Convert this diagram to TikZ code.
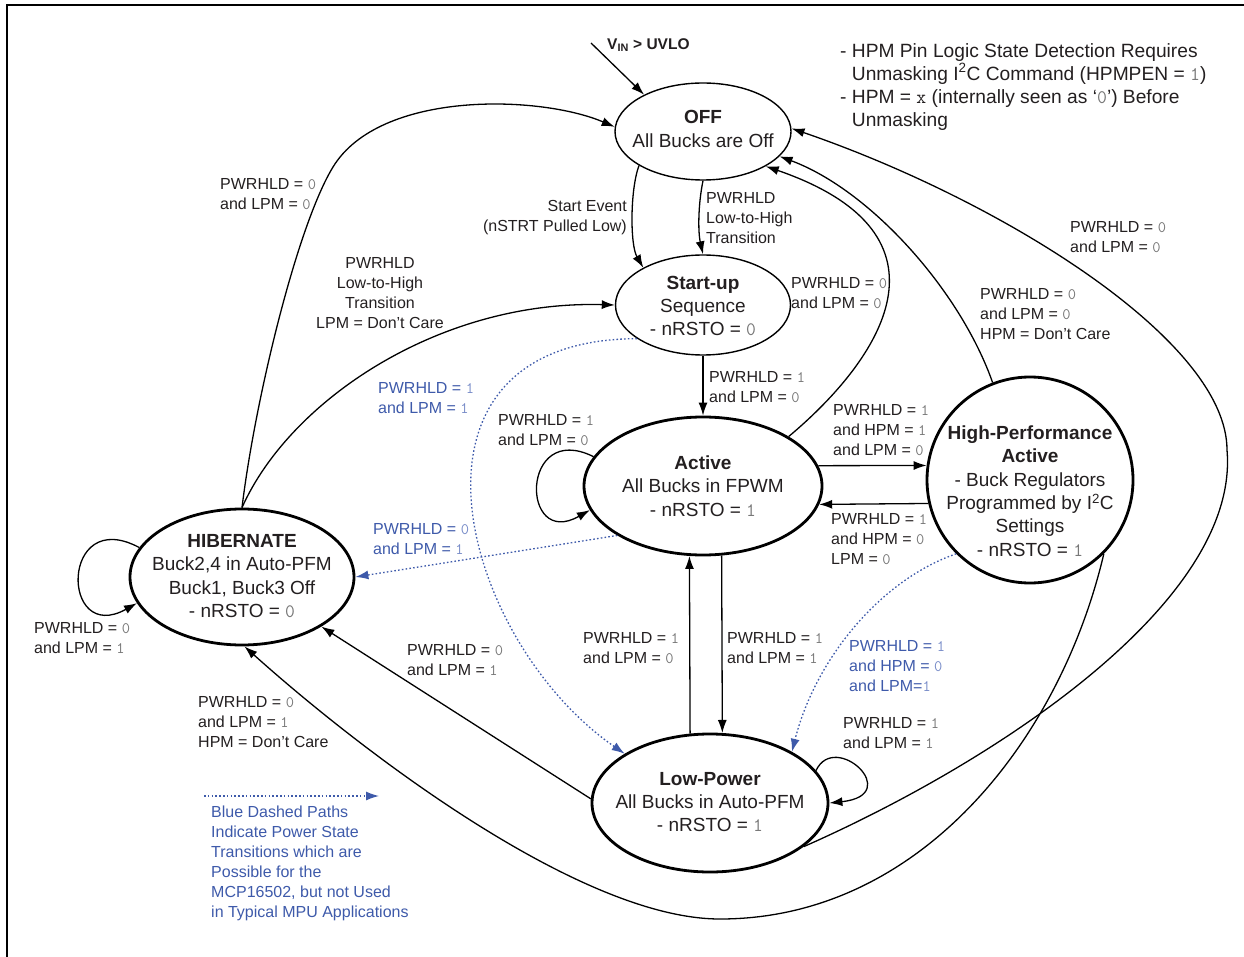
\documentclass[tikz,border=0pt]{standalone}
\usepackage{fontspec}
\setmainfont{Liberation Sans}
\usetikzlibrary{shapes.geometric,arrows.meta}
\definecolor{txt}{RGB}{35,31,32}
\definecolor{num}{RGB}{120,120,120}
\definecolor{blu}{RGB}{62,90,170}
\definecolor{blun}{RGB}{120,140,200}
\newcommand{\dg}[1]{{\ttfamily\color{num}#1}}
\newcommand{\bdg}[1]{{\ttfamily\color{blun}#1}}
\tikzset{
  lbl/.style={font=\fontsize{16}{20}\selectfont, text=txt, inner sep=0pt, align=left, anchor=west},
  blbl/.style={lbl, text=blu},
  nt/.style={font=\fontsize{19}{23.3}\selectfont, text=txt, inner sep=0pt, align=center},
  stthin/.style={draw, ellipse, line width=1.4pt, inner sep=0pt},
  stthick/.style={draw, ellipse, line width=2.8pt, inner sep=0pt},
  tr/.style={line width=1.3pt, -{Latex[length=13pt,width=9pt]}},
  btr/.style={blu, line width=1.3pt, dash pattern=on 1.6pt off 2.2pt, -{Latex[length=13pt,width=9pt]}},
}
\begin{document}
\begin{tikzpicture}[x=1pt,y=-1pt]
\useasboundingbox (0,0) rectangle (1244,957);
% frame
\draw[line width=2pt] (7,957) -- (7,5) -- (1244,5);

% states
\node[stthin, minimum width=176pt, minimum height=97pt] (off) at (703,131.5) {};
\node[stthin, minimum width=175pt, minimum height=100pt] (startup) at (703,305) {};
\node[stthick, minimum width=238pt, minimum height=138pt] (active) at (703,486) {};
\node[stthick, minimum width=224pt, minimum height=136pt] (hib) at (242,577) {};
\node[draw, circle, line width=2.8pt, minimum size=206pt, inner sep=0pt] (hpa) at (1030,480) {};
\node[stthick, minimum width=236pt, minimum height=138pt] (lp) at (710,803) {};

% state texts
\node[nt] (offT) at (703,129) {\textbf{OFF}\\All Bucks are Off};
\node[nt] (startupT) at (703,306) {\textbf{Start-up}\\Sequence\\- nRSTO = \dg{0}};
\node[nt] (activeT) at (703,486) {\textbf{Active}\\All Bucks in FPWM\\- nRSTO = \dg{1}};
\node[nt] (hibT) at (242,576) {\textbf{HIBERNATE}\\Buck2,4 in Auto-PFM\\Buck1, Buck3 Off\\- nRSTO = \dg{0}};
\node[nt] (hpaT) at (1030,491) {\textbf{High-Performance}\\\textbf{Active}\\- Buck Regulators\\Programmed by I\textsuperscript{2}C\\Settings\\- nRSTO = \dg{1}};
\node[nt] (lpT) at (710,802) {\textbf{Low-Power}\\All Bucks in Auto-PFM\\- nRSTO = \dg{1}};

% input
\coordinate (vin) at (591,43);
\draw[tr] (vin) -- (off.148);
\node[font=\bfseries\fontsize{15.5}{18}\selectfont, text=txt, inner sep=0pt, anchor=west] (vinT) at (607,45) {V\textsubscript{IN} > UVLO};

% black transitions
\draw[tr] (hib.north) .. controls (255,400) and (297,226) .. (333,167)
   .. controls (380,90) and (540,95) .. (off.177);
\draw[tr] (hib.north) .. controls (290,400) and (440,300) .. (startup.west);
\draw[tr] (off.208) .. controls (630,190) and (630,245) .. (startup.148);
\draw[tr] (off.south) .. controls (698,205) and (698,232) .. (startup.north);
\draw[tr] (startup.south) -- (active.north);
\draw[tr] (active.30) .. controls (880,360) and (965,235) .. (off.331);
\draw[tr] (hpa.111) .. controls (960,290) and (870,190) .. (off.342);
\draw[tr] (lp.335) .. controls (1000,760) and (1240,600) .. (1227,450)
   .. controls (1227,340) and (1000,200) .. (off.2);
\draw[tr] (hpa.315) .. controls (1060,740) and (920,919) .. (720,919)
   .. controls (580,919) and (360,750) .. (hib.272);
\draw[tr] (lp.178) -- (hib.328);
\draw[tr] (active.165) .. controls (520,420) and (520,550) .. (active.192);
\draw[tr] (hib.164) .. controls (60,505) and (60,646) .. (hib.194);
\draw[tr] (lp.17) .. controls (835,730) and (905,795) .. (lp.east);
\draw[tr] (active.10) -- (hpa.172);
\draw[tr] (hpa.193.5) -- (active.351);
\draw[tr] (lp.106.4) -- (active.259.3);
\draw[tr] (active.285.6) -- (lp.80.1);

% blue transitions
\draw[btr] (startup.207) .. controls (380,340) and (460,640) .. (lp.150);
\draw[btr] (active.210) -- (hib.east);
\draw[btr] (hpa.225) .. controls (880,580) and (815,660) .. (lp.32);

% labels
\node[lbl] (l1) at (220,194) {PWRHLD = \dg{0}\\and LPM = \dg{0}};
\node[lbl, align=center, anchor=center] (l2) at (380,293) {PWRHLD\\Low-to-High\\Transition\\LPM = Don’t Care};
\node[lbl, align=right, anchor=east] (l3) at (627,218) {Start Event\\(nSTRT Pulled Low)};
\node[lbl] (l4) at (706,218) {PWRHLD\\Low-to-High\\Transition};
\node[lbl] (l5) at (791,293) {PWRHLD = \dg{0}\\and LPM = \dg{0}};
\node[lbl] (l6) at (709,387) {PWRHLD = \dg{1}\\and LPM = \dg{0}};
\node[lbl] (l7) at (980,314) {PWRHLD = \dg{0}\\and LPM = \dg{0}\\HPM = Don’t Care};
\node[lbl] (l8) at (1070,237) {PWRHLD = \dg{0}\\and LPM = \dg{0}};
\node[lbl] (l9) at (498,430) {PWRHLD = \dg{1}\\and LPM = \dg{0}};
\node[lbl] (l10) at (833,430) {PWRHLD = \dg{1}\\and HPM = \dg{1}\\and LPM = \dg{0}};
\node[lbl] (l11) at (831,539) {PWRHLD = \dg{1}\\and HPM = \dg{0}\\LPM = \dg{0}};
\node[lbl] (l12) at (34,638) {PWRHLD = \dg{0}\\and LPM = \dg{1}};
\node[lbl] (l13) at (407,660) {PWRHLD = \dg{0}\\and LPM = \dg{1}};
\node[lbl] (l14) at (198,722) {PWRHLD = \dg{0}\\and LPM = \dg{1}\\HPM = Don’t Care};
\node[lbl] (l15) at (583,648) {PWRHLD = \dg{1}\\and LPM = \dg{0}};
\node[lbl] (l16) at (727,648) {PWRHLD = \dg{1}\\and LPM = \dg{1}};
\node[lbl] (l17) at (843,733) {PWRHLD = \dg{1}\\and LPM = \dg{1}};
\node[blbl] (b1) at (378,398) {PWRHLD = \bdg{1}\\and LPM = \bdg{1}};
\node[blbl] (b2) at (373,539) {PWRHLD = \bdg{0}\\and LPM = \bdg{1}};
\node[blbl] (b3) at (849,666) {PWRHLD = \bdg{1}\\and HPM = \bdg{0}\\and LPM=\bdg{1}};

% note
\node[font=\fontsize{19.2}{23.3}\selectfont, text=txt, inner sep=0pt, align=left, anchor=west] (note) at (840,87)
 {- HPM Pin Logic State Detection Requires\\
  \phantom{- }Unmasking I\textsuperscript{2}C Command (HPMPEN = \dg{1})\\
  - HPM = {\ttfamily x} (internally seen as ‘\dg{0}’) Before\\
  \phantom{- }Unmasking};

% legend
\coordinate (la) at (204,796);
\coordinate (lb) at (379,796);
\draw[btr] (la) -- (lb);
\node[blbl, anchor=north west] (legT) at (211,806) {Blue Dashed Paths\\Indicate Power State\\Transitions which are\\Possible for the\\MCP16502, but not Used\\in Typical MPU Applications};
\end{tikzpicture}
\end{document}
